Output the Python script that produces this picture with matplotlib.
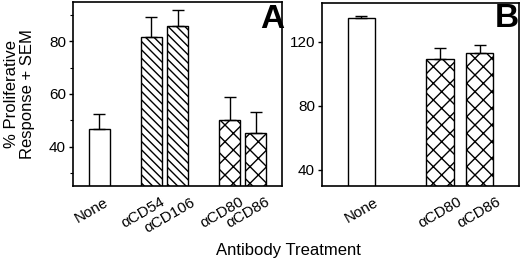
import numpy as np
import matplotlib
matplotlib.use('Agg')
import matplotlib.pyplot as plt
from matplotlib.ticker import MultipleLocator
from matplotlib.transforms import ScaledTranslation

plt.rcParams['font.family'] = ['Liberation Sans', 'DejaVu Sans']
plt.rcParams['hatch.linewidth'] = 1.0

# panel A data
labels_a = ['None', 'αCD54', 'αCD106', 'αCD80', 'αCD86']
pos_a = [1, 3, 4, 6, 7]
mean_a = [46.8, 81.6, 85.9, 50.0, 45.1]
sem_a = [5.4, 7.6, 6.0, 8.9, 8.2]
hatch_a = ['', '\\\\\\\\', '\\\\\\\\', 'xx', 'xx']

# panel B data
labels_b = ['None', 'αCD80', 'αCD86']
pos_b = [1, 3, 4]
mean_b = [134.6, 109.4, 112.9]
sem_b = [1.4, 6.6, 5.1]
hatch_b = ['', 'xx', 'xx']

fig = plt.figure(figsize=(5.2, 2.64), dpi=100)
ax_a = fig.add_axes([0.1404, 0.2955, 0.402, 0.697])
ax_b = fig.add_axes([0.619, 0.2955, 0.379, 0.693])


def draw_panel(ax, pos, mean, sem, hatches, labels, width, dx):
    for x, m, s, h in zip(pos, mean, sem, hatches):
        ax.bar(x, m, width=width, color='white', edgecolor='black',
               linewidth=1.0, hatch=h, zorder=2)
        ax.errorbar(x, m, yerr=[[0], [s]], fmt='none', ecolor='black',
                    elinewidth=1.0, capsize=4.5, capthick=1.0, zorder=3)
    ax.set_xticks(pos)
    ax.set_xticklabels([])
    ax.tick_params(axis='x', length=0)
    # rotated category labels, nudged like the original figure
    trans = ax.get_xaxis_transform() + ScaledTranslation(dx, -0.09, fig.dpi_scale_trans)
    for x, lab in zip(pos, labels):
        ax.text(x, 0, lab, transform=trans, rotation=30, ha='center',
                va='top', fontsize=11)
    ax.tick_params(axis='y', direction='out', length=3, width=1, labelsize=11, pad=2)
    for sp in ax.spines.values():
        sp.set_linewidth(1.2)


draw_panel(ax_a, pos_a, mean_a, sem_a, hatch_a, labels_a, 0.8, -0.08)
ax_a.set_xlim(0, 8)
ax_a.set_ylim(25, 95)
ax_a.yaxis.set_major_locator(MultipleLocator(20))
ax_a.yaxis.set_minor_locator(MultipleLocator(10))
ax_a.tick_params(axis='y', which='minor', direction='out', length=2, width=0.8)
ax_a.set_ylim(25, 95)
ax_a.set_ylabel('% Proliferative\nResponse + SEM', fontsize=12, labelpad=10,
                linespacing=1.1)
ax_a.text(0.952, 0.905, 'A', transform=ax_a.transAxes, fontsize=24,
          fontweight='bold', ha='center', va='center')

draw_panel(ax_b, pos_b, mean_b, sem_b, hatch_b, labels_b, 0.7, 0.0)
ax_b.set_xlim(0, 5)
ax_b.set_ylim(30, 144)
ax_b.set_yticks([40, 80, 120])
ax_b.text(0.94, 0.915, 'B', transform=ax_b.transAxes, fontsize=24,
          fontweight='bold', ha='center', va='center')

fig.text(0.555, 0.053, 'Antibody Treatment', ha='center', va='center', fontsize=12)

fig.savefig('out.png', dpi=100)
